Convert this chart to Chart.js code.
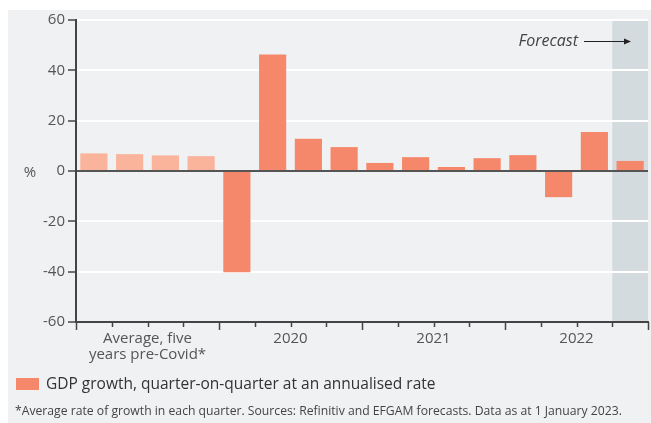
<!DOCTYPE html>
<html>
<head>
<meta charset="utf-8">
<script src="https://cdn.jsdelivr.net/npm/chart.js@4"></script>
<style>
  html, body { margin: 0; padding: 0; background: #ffffff; }
  #wrap { position: relative; width: 651px; height: 423px; overflow: hidden; font-family: "Open Sans", "Noto Sans", sans-serif; }
  #wrap canvas { position: absolute; left: 0; top: 0; }
  #legenda { position: absolute; left: 16px; top: 372px; font-size: 15.5px; color: #333; white-space: nowrap; }
  #legenda span.box { display: inline-block; width: 23px; height: 12px; background: #f5876b; margin-right: 7px; vertical-align: -1px; }
  #nota { position: absolute; left: 15px; top: 402px; font-size: 12.2px; color: #444; white-space: nowrap; }
</style>
</head>
<body>
<div id="wrap">
  <canvas id="grafico" width="651" height="423"></canvas>
  <div id="legenda"><span class="box"></span>GDP growth, quarter-on-quarter at an annualised rate</div>
  <div id="nota">*Average rate of growth in each quarter. Sources: Refinitiv and EFGAM forecasts. Data as at 1 January 2023.</div>
</div>
<script>
// categorias: 4 médias pré-Covid + trimestres 2020-2022
const trimestres = ['Média T1', 'Média T2', 'Média T3', 'Média T4',
    '2020 T1', '2020 T2', '2020 T3', '2020 T4',
    '2021 T1', '2021 T2', '2021 T3', '2021 T4',
    '2022 T1', '2022 T2', '2022 T3', '2022 T4'];
const crescimento = [7.0, 6.7, 6.2, 5.9, -40.2, 46.3, 12.8, 9.5, 3.2, 5.5, 1.6, 5.1, 6.3, -10.4, 15.5, 4.0];
const grupos = [['Average, five', 'years pre-Covid*'], ['2020'], ['2021'], ['2022']];
const ticksY = [-60, -40, -20, 0, 20, 40, 60];
const inicioPrevisao = 15;

const corMedia = '#f9b49b';
const corBarra = '#f5876b';

// fundo cinza, faixa de previsão, marcas do eixo x e textos extras
const pluginExtras = {
    id: 'extras',
    beforeDraw(chart) {
        const ctx = chart.ctx;
        const area = chart.chartArea;
        const x = chart.scales.x;
        ctx.save();
        ctx.fillStyle = '#f0f1f3';
        ctx.fillRect(8, 10, chart.width - 8, chart.height - 10);
        const passo = x.getPixelForValue(1) - x.getPixelForValue(0);
        const xIni = x.getPixelForValue(inicioPrevisao) - passo / 2;
        ctx.fillStyle = '#d4dbdf';
        ctx.fillRect(xIni, area.top, area.right - xIni, area.bottom - area.top);
        ctx.restore();
    },
    afterDraw(chart) {
        const ctx = chart.ctx;
        const area = chart.chartArea;
        const x = chart.scales.x;
        const passo = x.getPixelForValue(1) - x.getPixelForValue(0);
        ctx.save();
        // marcas do eixo x
        ctx.strokeStyle = '#444';
        ctx.lineWidth = 1.5;
        for (let i = 0; i <= trimestres.length; i++) {
            const px = Math.round(x.getPixelForValue(0) - passo / 2 + i * passo) + 0.5;
            const comprida = i % 4 === 0;
            ctx.beginPath();
            ctx.moveTo(px, area.bottom);
            ctx.lineTo(px, area.bottom + (comprida ? 8 : 5));
            ctx.stroke();
        }
        // rótulos dos grupos
        ctx.fillStyle = '#555';
        ctx.font = '15px "Open Sans", "Noto Sans", sans-serif';
        ctx.textAlign = 'center';
        ctx.textBaseline = 'middle';
        grupos.forEach(function (linhas, g) {
            const centro = (x.getPixelForValue(g * 4) + x.getPixelForValue(g * 4 + 3)) / 2;
            linhas.forEach(function (txt, k) {
                ctx.fillText(txt, centro, area.bottom + 17 + k * 16);
            });
        });
        // unidade
        ctx.fillText('%', 30, chart.scales.y.getPixelForValue(0) + 2);
        // anotação de previsão
        ctx.font = 'italic 16px "Open Sans", "Noto Sans", sans-serif';
        ctx.textAlign = 'right';
        ctx.fillStyle = '#444';
        ctx.fillText('Forecast', 578, 41);
        ctx.strokeStyle = '#222';
        ctx.lineWidth = 1;
        ctx.beginPath();
        ctx.moveTo(584, 41.5);
        ctx.lineTo(628, 41.5);
        ctx.stroke();
        ctx.fillStyle = '#222';
        ctx.beginPath();
        ctx.moveTo(631, 41.5);
        ctx.lineTo(624, 38.5);
        ctx.lineTo(624, 44.5);
        ctx.closePath();
        ctx.fill();
        ctx.restore();
    }
};

const config = {
    type: 'bar',
    data: {
        labels: trimestres,
        datasets: [{
            label: 'GDP growth, quarter-on-quarter at an annualised rate',
            data: crescimento,
            backgroundColor: crescimento.map(function (v, i) { return i < 4 ? corMedia : corBarra; }),
            borderWidth: 0,
            categoryPercentage: 1,
            barPercentage: 0.76
        }]
    },
    options: {
        responsive: false,
        animation: false,
        layout: { padding: { left: 8, top: 20, right: 3, bottom: 0 } },
        plugins: {
            legend: { display: false },
            tooltip: { enabled: false }
        },
        scales: {
            x: {
                ticks: { display: false },
                grid: { display: false },
                border: { color: '#444', width: 2 },
                afterFit: function (scale) { scale.height = 101; }
            },
            y: {
                min: -60,
                max: 60,
                afterBuildTicks: function (scale) {
                    scale.ticks = ticksY.map(function (v) { return { value: v }; });
                },
                ticks: {
                    color: '#555',
                    font: { family: '"Open Sans", "Noto Sans", sans-serif', size: 15 },
                    padding: 3
                },
                grid: {
                    color: function (c) { return c.tick && c.tick.value === 0 ? '#555' : '#ffffff'; },
                    lineWidth: 2,
                    tickColor: '#444',
                    tickLength: 8,
                    tickWidth: 1.5
                },
                border: { color: '#444', width: 2 },
                afterFit: function (scale) { scale.width = 68; }
            }
        }
    },
    plugins: [pluginExtras]
};

let meuGrafico = new Chart(document.getElementById('grafico'), config);
</script>
</body>
</html>
